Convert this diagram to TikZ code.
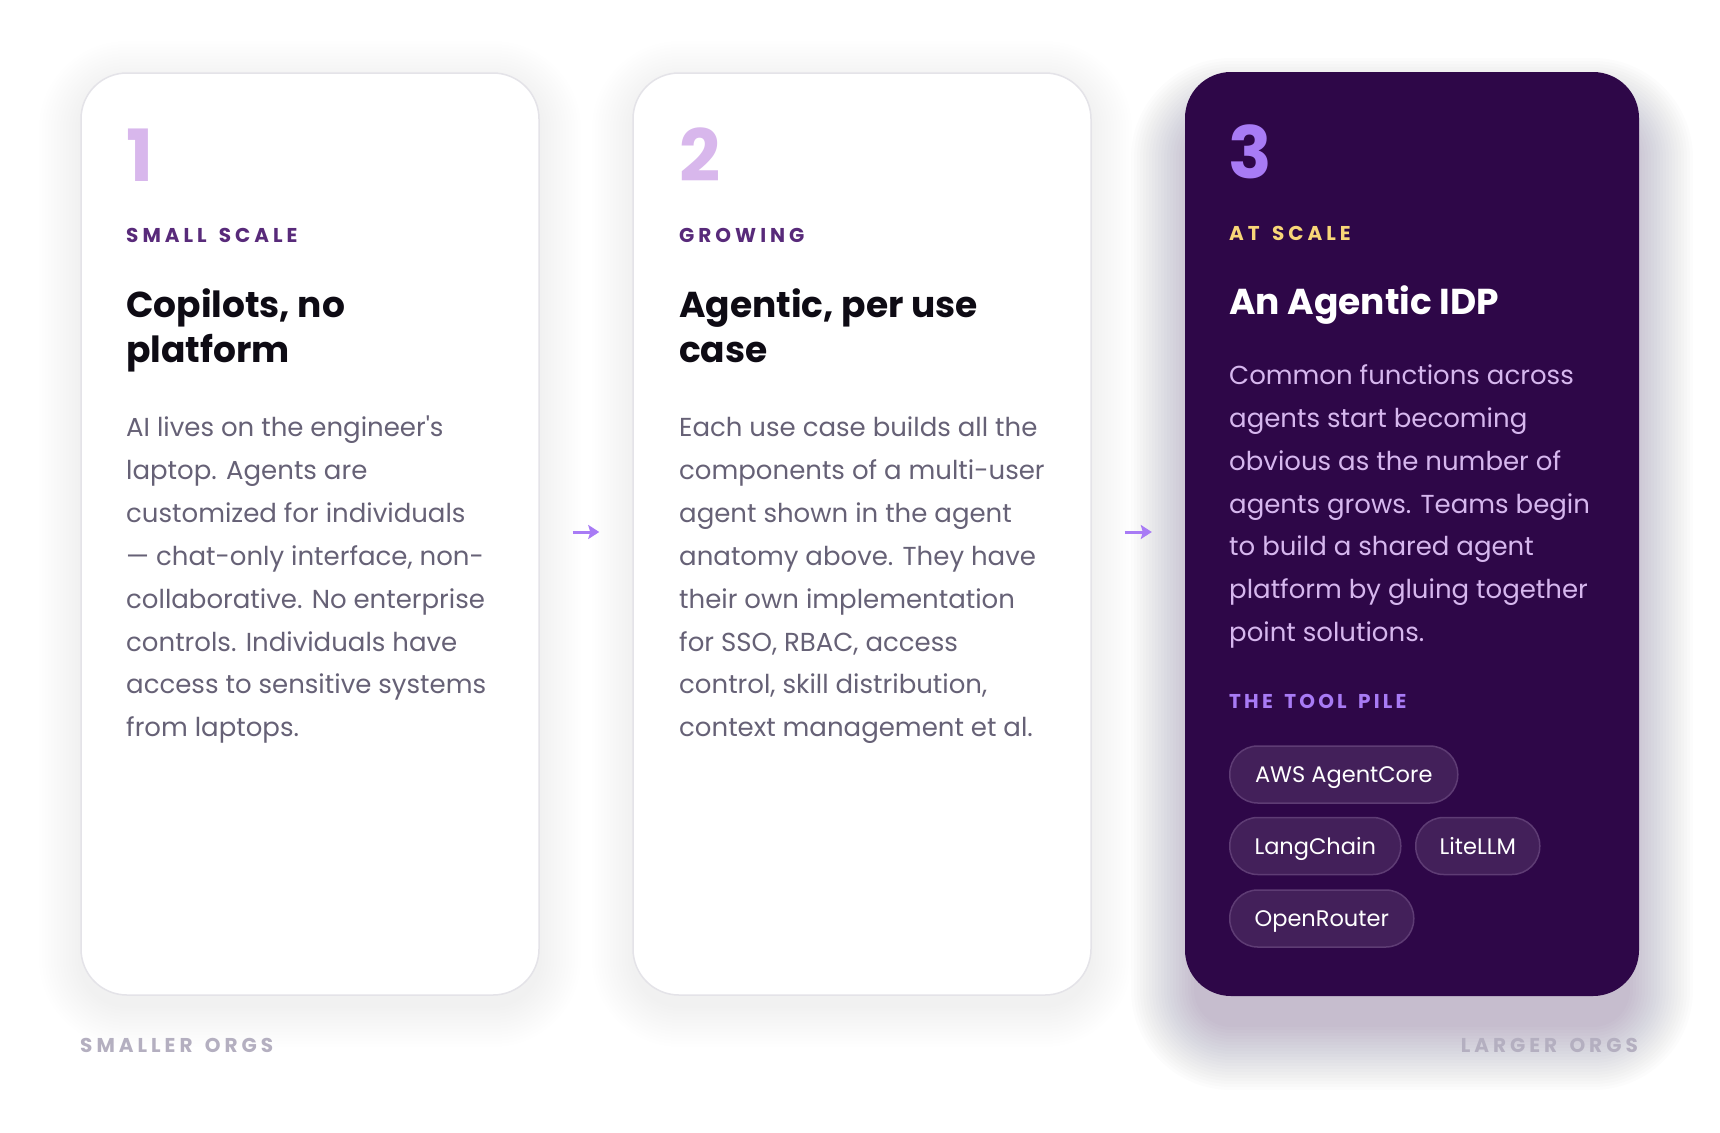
\documentclass[tikz,border=0pt]{standalone}
\usepackage{fontspec}
\setmainfont{Poppins}[Ligatures=TeXOff]
\newfontfamily\lblfont[LetterSpace=20,Ligatures=TeXOff]{Poppins}
\newfontfamily\pilelblfont[LetterSpace=16,Ligatures=TeXOff]{Poppins}
\usetikzlibrary{arrows.meta}
\definecolor{cardborder}{RGB}{228,227,232}
\definecolor{deep}{RGB}{46,7,72}
\definecolor{numlight}{RGB}{216,183,236}
\definecolor{numvio}{RGB}{168,123,245}
\definecolor{lblpurple}{RGB}{88,42,122}
\definecolor{titleink}{RGB}{14,11,20}
\definecolor{bodygrey}{RGB}{102,97,118}
\definecolor{bodylav}{RGB}{214,183,238}
\definecolor{gold}{RGB}{248,214,120}
\definecolor{pillfill}{RGB}{67,32,90}
\definecolor{pillline}{RGB}{94,60,116}
\definecolor{orggrey}{RGB}{180,175,192}
\definecolor{arrowvio}{RGB}{168,123,245}
\newcommand\wgap{\kern4pt\ }
\tikzset{
  cardbox/.style={draw=cardborder, line width=1.5pt, fill=white, rounded corners=46pt,
    minimum width=458pt, minimum height=922pt, inner sep=0pt},
  darkcard/.style={fill=deep, rounded corners=46pt,
    minimum width=454pt, minimum height=924pt, inner sep=0pt},
  numtxt/.style={anchor=base west, inner sep=0pt, font=\fontsize{72}{72}\selectfont\bfseries},
  lbltxt/.style={anchor=base west, inner sep=0pt, font=\fontsize{20}{20}\selectfont\lblfont\bfseries},
  pilelbl/.style={anchor=base west, inner sep=0pt, font=\fontsize{20}{20}\selectfont\pilelblfont\bfseries},
  ttl/.style={anchor=base west, inner sep=0pt, font=\fontsize{36}{45}\selectfont\bfseries},
  bodytxt/.style={anchor=base west, inner sep=0pt, font=\fontsize{26}{43}\selectfont},
  pillbox/.style={draw=pillline, line width=1.5pt, fill=pillfill, rounded corners=28pt,
    minimum height=57pt, inner sep=0pt, text=white, anchor=west,
    text height=16pt, text depth=0pt,
    font=\fontsize{22.5}{22.5}\selectfont},
  flowarrow/.style={draw=arrowvio, line width=3pt, -{Stealth[length=11pt,width=14pt,inset=2pt]}},
  orgtxt/.style={inner sep=0pt, text=orggrey, font=\fontsize{20}{20}\selectfont\lblfont\bfseries}
}
\begin{document}
\begin{tikzpicture}[x=1pt,y=-1pt]
\useasboundingbox (0,0) rectangle (1720,1132);
\fill[white] (0,0) rectangle (1720,1132);
% soft shadows
\foreach \k in {1,...,14}{
  \pgfmathsetmacro\s{\k*3}
  \pgfmathsetmacro\r{46+\s}
  \fill[black, opacity=0.005, rounded corners=\r] (81-\s, 83-\s) rectangle (539+\s, 1005+\s);
  \fill[black, opacity=0.005, rounded corners=\r] (634-\s, 83-\s) rectangle (1090+\s, 1005+\s);
}
\foreach \k in {1,...,22}{
  \pgfmathsetmacro\s{\k*3-12}
  \pgfmathsetmacro\r{max(46+\s,8)}
  \pgfmathsetmacro\xa{1185-(\s)}
  \pgfmathsetmacro\xb{1639+(\s)}
  \pgfmathsetmacro\ya{112-(\s)}
  \pgfmathsetmacro\yb{1036+(\s)}
  \fill[deep, opacity=0.011, rounded corners=\r] (\xa,\ya) rectangle (\xb,\yb);
}
% cards
\node[cardbox] (c1) at (310,534) {};
\node[cardbox] (c2) at (862,534) {};
\node[darkcard] (c3) at (1412,534) {};
% arrows
\draw[flowarrow] ([shift={(33pt,2pt)}]c1.east) -- ([shift={(-33pt,2pt)}]c2.west);
\draw[flowarrow] ([shift={(33pt,2pt)}]c2.east) -- ([shift={(-33pt,2pt)}]c3.west);
% card 1
\node[numtxt, text=numlight] (n1) at (126,181) {1};
\node[lbltxt, text=lblpurple] (l1) at (126,242) {SMALL\wgap SCALE};
\node[ttl, text=titleink] (t1a) at (126,317) {Copilots, no};
\node[ttl, text=titleink] (t1b) at (126,362) {platform};
\foreach \t [count=\i] in {{AI lives on the engineer's},{laptop. Agents are},{customized for individuals},{— chat-only interface, non-},{collaborative. No enterprise},{controls. Individuals have},{access to sensitive systems},{from laptops.}}{
  \node[bodytxt, text=bodygrey] (b1-\i) at (126,{436.5+(\i-1)*42.9}) {\t};
}
% card 2
\node[numtxt, text=numlight] (n2) at (679,181) {2};
\node[lbltxt, text=lblpurple] (l2) at (679,242) {GROWING};
\node[ttl, text=titleink] (t2a) at (679,317) {Agentic, per use};
\node[ttl, text=titleink] (t2b) at (679,362) {case};
\foreach \t [count=\i] in {{Each use case builds all the},{components of a multi-user},{agent shown in the agent},{anatomy above. They have},{their own implementation},{for SSO, RBAC, access},{control, skill distribution,},{context management et al.}}{
  \node[bodytxt, text=bodygrey] (b2-\i) at (679,{436.5+(\i-1)*42.9}) {\t};
}
% card 3
\node[numtxt, text=numvio] (n3) at (1228,178) {3};
\node[lbltxt, text=gold] (l3) at (1229,240) {AT\wgap SCALE};
\node[ttl, text=white] (t3) at (1229,314) {An Agentic IDP};
\foreach \t [count=\i] in {{Common functions across},{agents start becoming},{obvious as the number of},{agents grows. Teams begin},{to build a shared agent},{platform by gluing together},{point solutions.}}{
  \node[bodytxt, text=bodylav] (b3-\i) at (1229,{384.3+(\i-1)*42.9}) {\t};
}
\node[pilelbl, text=numvio] (l4) at (1229,708) {THE\wgap TOOL\wgap PILE};
\node[pillbox, minimum width=228pt] (p1) at (1229,774.5) {AWS AgentCore};
\node[pillbox, minimum width=171pt] (p2) at (1229,846) {LangChain};
\node[pillbox, minimum width=124pt] (p3) at (1415,846) {LiteLLM};
\node[pillbox, minimum width=184pt] (p4) at (1229,918.5) {OpenRouter};
% bottom labels
\node[orgtxt, anchor=base west] (o1) at (80,1052) {SMALLER\wgap ORGS};
\node[orgtxt, anchor=base east] (o2) at (1638,1052) {LARGER\wgap ORGS};
\end{tikzpicture}
\end{document}
